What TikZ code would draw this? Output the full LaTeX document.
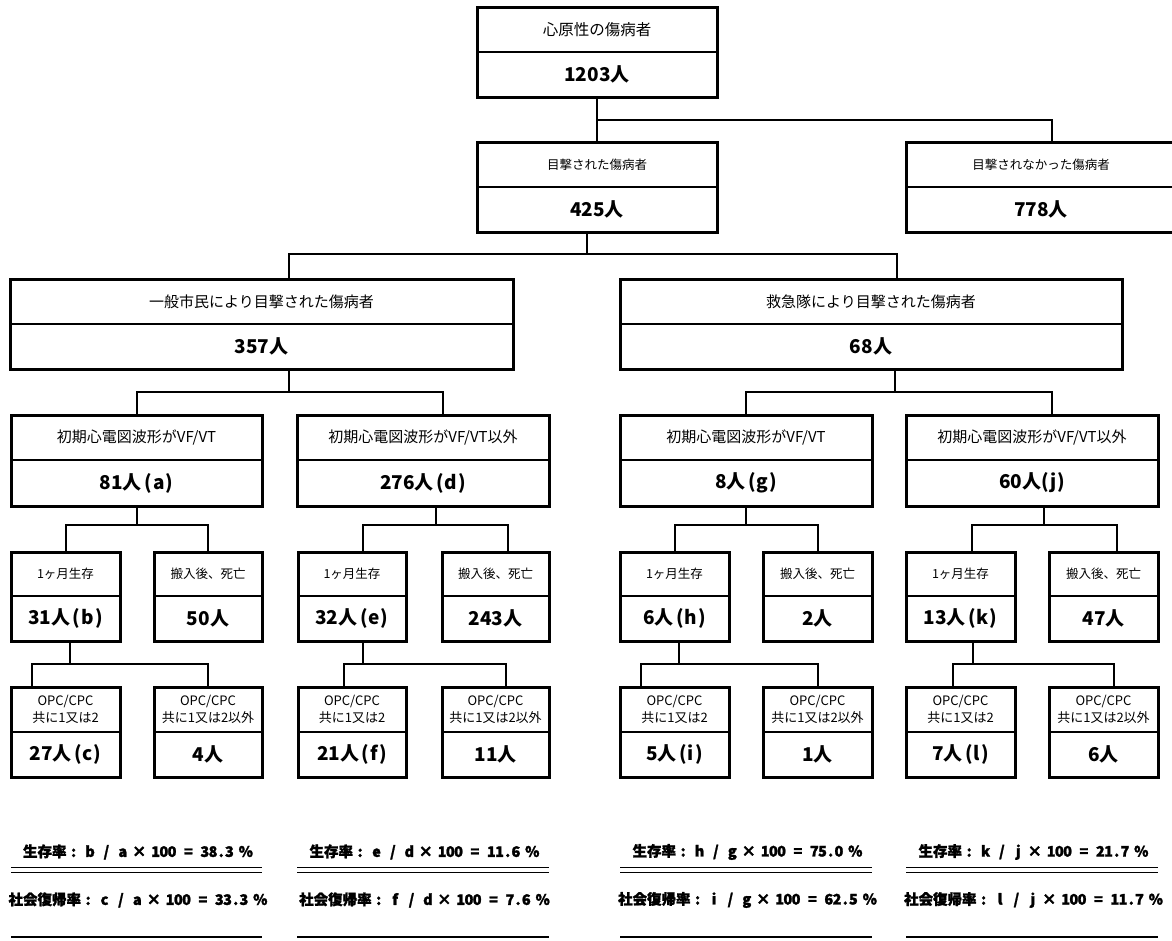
\documentclass[tikz,border=0pt]{standalone}
\usepackage{fontspec}
\setmainfont{Noto Sans CJK JP}
\newfontfamily\heavyfont{Noto Sans CJK JP}[FakeBold=1.6]
\usetikzlibrary{calc}
\makeatletter
\newcommand\hwstr[1]{\@tfor\hw@c:=#1\do{\makebox[8.2pt]{\hw@c}}}
\makeatother
\newcommand\pp[1]{\kern2.5pt(\kern1pt#1\kern1pt)}
\tikzset{
  boxf/.style={draw, line width=3pt, inner sep=0pt, outer sep=0pt, rectangle},
  divl/.style={line width=2pt},
  conn/.style={line width=2pt},
  lab/.style={inner sep=0pt, align=center},
  num/.style={inner sep=0pt, font=\fontsize{19}{21}\selectfont\bfseries},
  rate/.style={inner sep=0pt, font=\fontsize{14.5}{16}\selectfont\heavyfont\bfseries},
}
% name, x1, y1, x2, y2, ydiv, label, number, label font size
\newcommand\tbox[9]{%
  \node[boxf, minimum width={(#4-#2)*1pt}, minimum height={(#5-#3)*1pt}, anchor=north west] (#1) at (#2,#3) {};
  \coordinate (#1d) at (#2,#6);
  \draw[divl] (#1.west |- #1d) -- (#1.east |- #1d);
  \node[lab, font=\fontsize{#9}{17.5}\selectfont] (#1l) at ($(#1.north)!.5!(#1.north |- #1d)$) {#7};
  \node[num] (#1n) at ($(#1.south)!.5!(#1.south |- #1d)$) {#8};
}
\begin{document}
\begin{tikzpicture}[x=1pt, y=-1pt]
\useasboundingbox[fill=white] (0,0) rectangle (1172,940);
% level 1-3
\tbox{A}{477}{7}{717}{97}{52}{心原性の傷病者}{1203人}{15.5}
\tbox{B}{477}{142}{717}{232}{187}{目撃された傷病者}{425人}{12.5}
\tbox{C}{906}{142}{1176}{232}{187}{目撃されなかった傷病者}{778人}{12.5}
\tbox{D}{10}{279}{513}{369}{324}{一般市民により目撃された傷病者}{357人}{15}
\tbox{E}{620}{279}{1122}{369}{324}{救急隊により目撃された傷病者}{68人}{15}
% level 4
\tbox{F1}{11}{415}{262}{506}{460}{初期心電図波形がVF/VT}{81人\pp{a}}{15}
\tbox{F2}{297}{415}{549}{506}{460}{初期心電図波形がVF/VT以外}{276人\pp{d}}{15}
\tbox{F3}{620}{415}{872}{506}{460}{初期心電図波形がVF/VT}{8人\pp{g}}{15}
\tbox{F4}{906}{415}{1158}{506}{460}{初期心電図波形がVF/VT以外}{60人(j)}{15}
% level 5
\tbox{G1}{11}{552}{120}{641}{596}{1ヶ月生存}{31人\pp{b}}{12.5}
\tbox{G2}{154}{552}{262}{641}{596}{搬入後、死亡}{50人}{12.5}
\tbox{G3}{298}{552}{406}{641}{596}{1ヶ月生存}{32人\pp{e}}{12.5}
\tbox{G4}{442}{552}{549}{641}{596}{搬入後、死亡}{243人}{12.5}
\tbox{G5}{620}{552}{729}{641}{596}{1ヶ月生存}{6人\pp{h}}{12.5}
\tbox{G6}{763}{552}{872}{641}{596}{搬入後、死亡}{2人}{12.5}
\tbox{G7}{906}{552}{1015}{641}{596}{1ヶ月生存}{13人\pp{k}}{12.5}
\tbox{G8}{1049}{552}{1158}{641}{596}{搬入後、死亡}{47人}{12.5}
% level 6
\tbox{H1}{11}{687}{120}{777}{732}{OPC/CPC\\共に1又は2}{27人\pp{c}}{13}
\tbox{H2}{154}{687}{262}{777}{732}{OPC/CPC\\共に1又は2以外}{4人}{13}
\tbox{H3}{298}{687}{406}{777}{732}{OPC/CPC\\共に1又は2}{21人\pp{f}}{13}
\tbox{H4}{442}{687}{549}{777}{732}{OPC/CPC\\共に1又は2以外}{11人}{13}
\tbox{H5}{620}{687}{729}{777}{732}{OPC/CPC\\共に1又は2}{5人\pp{i}}{13}
\tbox{H6}{763}{687}{872}{777}{732}{OPC/CPC\\共に1又は2以外}{1人}{13}
\tbox{H7}{906}{687}{1015}{777}{732}{OPC/CPC\\共に1又は2}{7人\pp{l}}{13}
\tbox{H8}{1049}{687}{1158}{777}{732}{OPC/CPC\\共に1又は2以外}{6人}{13}
% connectors
\coordinate (aj) at ($(A.south)!.5!(B.north)$);
\draw[conn] (A.south) -- (B.north);
\draw[conn] (aj) -| ([xshift=11pt]C.north);
\coordinate (bj) at ([xshift=-10pt,yshift=-22pt]B.south);
\draw[conn] ([xshift=-10pt]B.south) -- (bj);
\draw[conn] (bj) -| ([xshift=27pt]D.north);
\draw[conn] (bj) -| ([xshift=26pt]E.north);
\coordinate (dj) at ([xshift=27pt,yshift=-23pt]D.south);
\draw[conn] ([xshift=27pt]D.south) -- (dj);
\draw[conn] (dj) -| (F1.north);
\draw[conn] (dj) -| ([xshift=20pt]F2.north);
\coordinate (ej) at ([xshift=24pt,yshift=-23pt]E.south);
\draw[conn] ([xshift=24pt]E.south) -- (ej);
\draw[conn] (ej) -| (F3.north);
\draw[conn] (ej) -| ([xshift=20pt]F4.north);
% F -> G
\coordinate (f1j) at ([yshift=-19pt]F1.south);
\draw[conn] (F1.south) -- (f1j);
\draw[conn] (f1j) -| (G1.north);
\draw[conn] (f1j) -| (G2.north);
\coordinate (f2j) at ([xshift=13pt,yshift=-19pt]F2.south);
\draw[conn] ([xshift=13pt]F2.south) -- (f2j);
\draw[conn] (f2j) -| ([xshift=11pt]G3.north);
\draw[conn] (f2j) -| ([xshift=12pt]G4.north);
\coordinate (f3j) at ([yshift=-19pt]F3.south);
\draw[conn] (F3.south) -- (f3j);
\draw[conn] (f3j) -| (G5.north);
\draw[conn] (f3j) -| (G6.north);
\coordinate (f4j) at ([xshift=12pt,yshift=-19pt]F4.south);
\draw[conn] ([xshift=12pt]F4.south) -- (f4j);
\draw[conn] (f4j) -| ([xshift=11pt]G7.north);
\draw[conn] (f4j) -| ([xshift=13pt]G8.north);
% G -> H
\coordinate (g1j) at ([xshift=4.5pt,yshift=-23pt]G1.south);
\draw[conn] ([xshift=4.5pt]G1.south) -- (g1j);
\draw[conn] (g1j) -| ([xshift=-33.5pt]H1.north);
\draw[conn] (g1j) -| (H2.north);
\coordinate (g3j) at ([xshift=11pt,yshift=-23pt]G3.south);
\draw[conn] ([xshift=11pt]G3.south) -- (g3j);
\draw[conn] (g3j) -| ([xshift=-8pt]H3.north);
\draw[conn] (g3j) -| ([xshift=10pt]H4.north);
\coordinate (g5j) at ([xshift=4pt,yshift=-23pt]G5.south);
\draw[conn] ([xshift=4pt]G5.south) -- (g5j);
\draw[conn] (g5j) -| ([xshift=-33.5pt]H5.north);
\draw[conn] (g5j) -| (H6.north);
\coordinate (g7j) at ([xshift=12pt,yshift=-23pt]G7.south);
\draw[conn] ([xshift=12pt]G7.south) -- (g7j);
\draw[conn] (g7j) -| ([xshift=-8pt]H7.north);
\draw[conn] (g7j) -| ([xshift=10pt]H8.north);
% rates
\node[rate] (s1) at (F1.center |- 0,852) {生存率\hspace{3pt}\hwstr{:~b~/~a~×~100~=~38.3~\%}};
\node[rate] (s2) at (F2.center |- 0,852) {生存率\hspace{3pt}\hwstr{:~e~/~d~×~100~=~11.6~\%}};
\node[rate] (s3) at (F3.center |- 0,852) {生存率\hspace{3pt}\hwstr{:~h~/~g~×~100~=~75.0~\%}};
\node[rate] (s4) at (F4.center |- 0,852) {生存率\hspace{3pt}\hwstr{:~k~/~j~×~100~=~21.7~\%}};
\node[rate] (r1) at (F1.center |- 0,900) {社会復帰率\hspace{3pt}\hwstr{:~c~/~a~×~100~=~33.3~\%}};
\node[rate] (r2) at (F2.center |- 0,900) {社会復帰率\hspace{3pt}\hwstr{:~f~/~d~×~100~=~7.6~\%}};
\node[rate] (r3) at (F3.center |- 0,900) {社会復帰率\hspace{3pt}\hwstr{:~i~/~g~×~100~=~62.5~\%}};
\node[rate] (r4) at (F4.center |- 0,900) {社会復帰率\hspace{3pt}\hwstr{:~l~/~j~×~100~=~11.7~\%}};
\foreach \c in {F1,F2,F3,F4}{
  \draw[line width=1.7pt] (\c.west |- 0,867.5) -- (\c.east |- 0,867.5);
  \draw[line width=1.7pt] (\c.west |- 0,872.5) -- (\c.east |- 0,872.5);
  \draw[line width=2pt] (\c.west |- 0,937) -- (\c.east |- 0,937);
}
\end{tikzpicture}
\end{document}
